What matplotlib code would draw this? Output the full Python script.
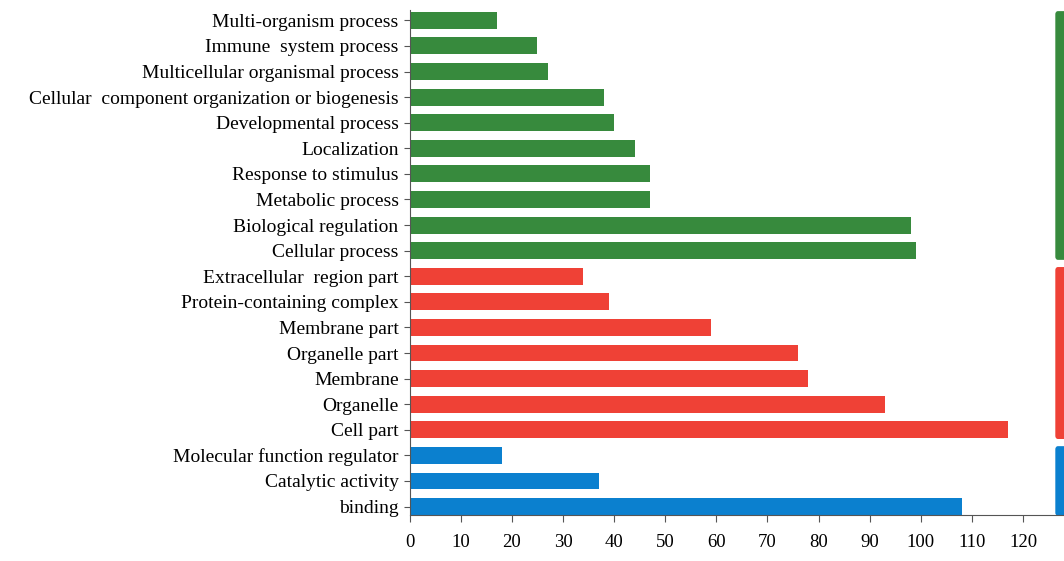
import matplotlib.pyplot as plt
from matplotlib.patches import FancyBboxPatch

# GO term counts, listed bottom to top
terms = ['binding', 'Catalytic activity', 'Molecular function regulator',
         'Cell part', 'Organelle', 'Membrane', 'Organelle part', 'Membrane part',
         'Protein-containing complex', 'Extracellular  region part',
         'Cellular process', 'Biological regulation', 'Metabolic process',
         'Response to stimulus', 'Localization', 'Developmental process',
         'Cellular  component organization or biogenesis',
         'Multicellular organismal process', 'Immune  system process',
         'Multi-organism process']
counts = [108, 37, 18,
          117, 93, 78, 76, 59, 39, 34,
          99, 98, 47, 47, 44, 40, 38, 27, 25, 17]
groups = ['MF'] * 3 + ['CC'] * 7 + ['BP'] * 10

colors = {'BP': '#378a3d', 'CC': '#ef4136', 'MF': '#0b80cf'}

plt.rcParams['font.family'] = ['Liberation Serif', 'DejaVu Serif']

fig = plt.figure(figsize=(10.64, 5.61), dpi=100)
ax = fig.add_axes([0.385, 0.082, 0.615, 0.9])

ypos = list(range(len(terms)))
ax.barh(ypos, counts, height=0.66, color=[colors[g] for g in groups])

ax.set_yticks(ypos)
ax.set_yticklabels(terms, fontsize=14)
ax.set_xticks(range(0, 121, 10))
ax.tick_params(axis='x', labelsize=13.5, length=5, pad=9, color='#555555')
ax.tick_params(axis='y', length=4, pad=4, color='#555555')
ax.set_xlim(0, 128)
ax.set_ylim(-0.33, 19.4)

for s in ['top', 'right']:
    ax.spines[s].set_visible(False)
for s in ['left', 'bottom']:
    ax.spines[s].set_color('#555555')

# rounded side bars marking each ontology group
for g in ['BP', 'CC', 'MF']:
    idx = [i for i, gg in enumerate(groups) if gg == g]
    y0, y1 = min(idx) - 0.36, max(idx) + 0.36
    ax.add_patch(FancyBboxPatch((126.3, y0), 2.4, y1 - y0,
                                boxstyle='round,pad=0,rounding_size=0.5',
                                mutation_aspect=0.25,
                                facecolor=colors[g], edgecolor='none',
                                clip_on=False))

plt.savefig('out.png', dpi=100)
